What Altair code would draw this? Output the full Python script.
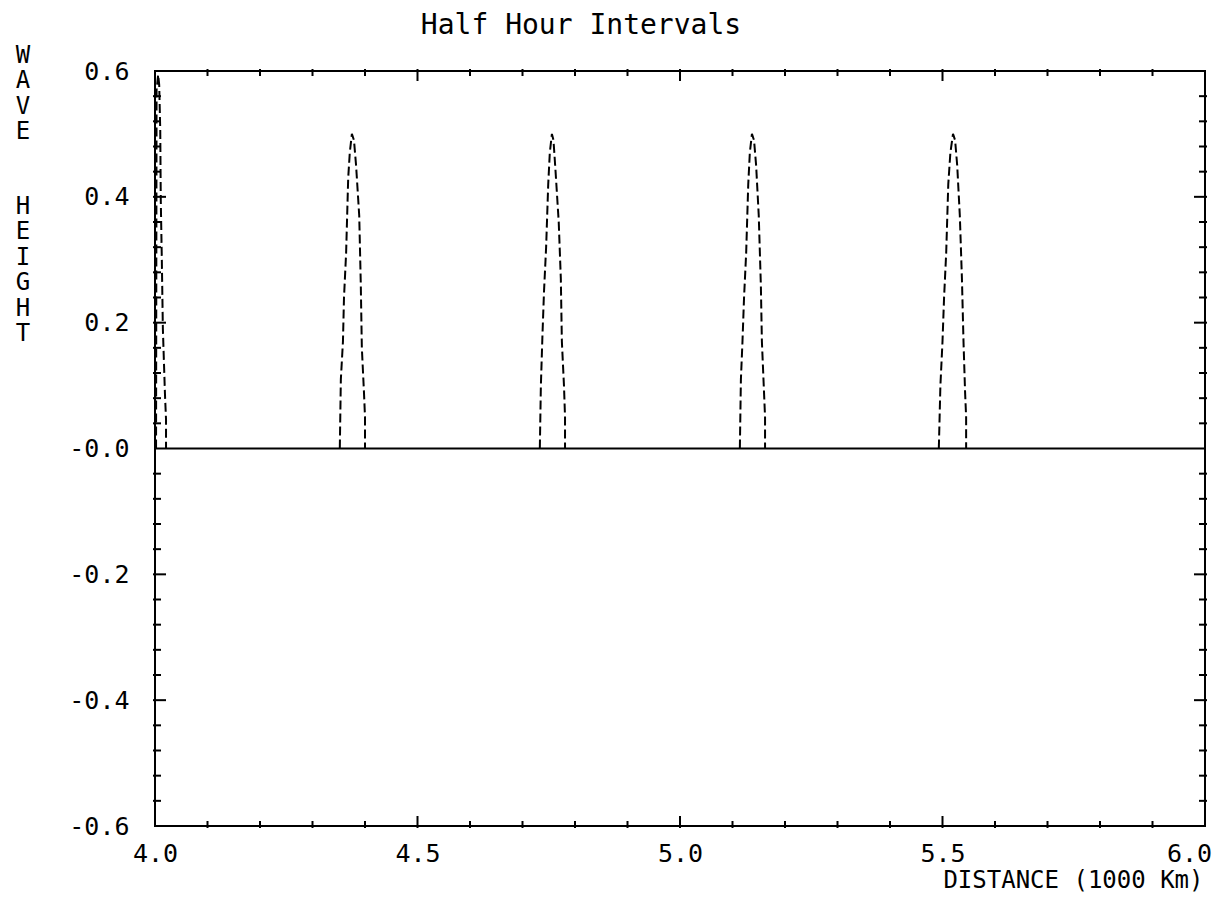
import altair as alt
import pandas as pd

# ---- data ----
TITLE = "Half Hour Intervals"
Y_TITLE_1 = ["W", "A", "V", "E"]
Y_TITLE_2 = ["H", "E", "I", "G", "H", "T"]
X_TITLE = "DISTANCE (1000 Km)"

X_DOMAIN = [4.0, 6.0]
Y_DOMAIN = [-0.6, 0.6]
X_LABELS = [4.0, 4.5, 5.0, 5.5, 6.0]
Y_LABELS = [-0.6, -0.4, -0.2, 0.0, 0.2, 0.4, 0.6]
X_MINOR = [4.1, 4.2, 4.3, 4.4, 4.6, 4.7, 4.8, 4.9, 5.1, 5.2, 5.3, 5.4, 5.6, 5.7, 5.8, 5.9]
X_MAJOR = [4.5, 5.0, 5.5]
Y_MINOR = [-0.56, -0.52, -0.48, -0.44, -0.36, -0.32, -0.28, -0.24, -0.16, -0.12, -0.08, -0.04,
           0.04, 0.08, 0.12, 0.16, 0.24, 0.28, 0.32, 0.36, 0.44, 0.48, 0.52, 0.56]
Y_MAJOR = [-0.4, -0.2, 0.2, 0.4]

p1_x = [4.002, 4.003, 4.006, 4.008, 4.010, 4.011, 4.013, 4.015, 4.019, 4.021, 4.021]
p1_y = [0.0, 0.57, 0.594, 0.578, 0.506, 0.395, 0.30, 0.19, 0.086, 0.046, 0.0]

p2_x = [4.352, 4.354, 4.358, 4.360, 4.364, 4.368, 4.371, 4.375, 4.379, 4.383, 4.389, 4.392, 4.394, 4.398, 4.400, 4.400]
p2_y = [0.0, 0.11, 0.17, 0.24, 0.31, 0.43, 0.47, 0.50, 0.49, 0.45, 0.37, 0.26, 0.16, 0.09, 0.05, 0.0]

p3_x = [4.733, 4.735, 4.738, 4.741, 4.745, 4.749, 4.752, 4.756, 4.759, 4.763, 4.769, 4.773, 4.775, 4.779, 4.781, 4.781]
p3_y = [0.0, 0.10, 0.18, 0.25, 0.32, 0.42, 0.47, 0.50, 0.49, 0.44, 0.36, 0.27, 0.17, 0.10, 0.05, 0.0]

p4_x = [5.114, 5.116, 5.119, 5.122, 5.126, 5.130, 5.133, 5.137, 5.141, 5.145, 5.150, 5.154, 5.156, 5.160, 5.162, 5.162]
p4_y = [0.0, 0.11, 0.17, 0.24, 0.31, 0.42, 0.47, 0.50, 0.49, 0.45, 0.37, 0.26, 0.17, 0.09, 0.05, 0.0]

p5_x = [5.493, 5.496, 5.500, 5.503, 5.507, 5.511, 5.515, 5.520, 5.524, 5.528, 5.533, 5.537, 5.540, 5.543, 5.545, 5.545]
p5_y = [0.0, 0.10, 0.17, 0.24, 0.31, 0.42, 0.47, 0.50, 0.49, 0.45, 0.37, 0.27, 0.17, 0.09, 0.05, 0.0]

rows = []
for name, xs_, ys_ in [("p1", p1_x, p1_y), ("p2", p2_x, p2_y), ("p3", p3_x, p3_y),
                       ("p4", p4_x, p4_y), ("p5", p5_x, p5_y)]:
    for i, (a, b) in enumerate(zip(xs_, ys_)):
        rows.append({"peak": name, "i": i, "x": a, "y": b})
waves = pd.DataFrame(rows)

W, H = 1050, 755
FONT = "DejaVu Sans Mono"

xs = alt.Scale(domain=X_DOMAIN, nice=False, zero=False)
ys = alt.Scale(domain=Y_DOMAIN, nice=False, zero=False)

x_axis = alt.Axis(
    values=X_LABELS, format=".1f", ticks=False, tickSize=0, domain=False, grid=False,
    labelFont=FONT, labelFontSize=25, labelColor="black", labelPadding=27,
    labelBaseline="middle", labelFlush=False,
    labelOffset={"condition": {"test": "datum.value >= 6", "value": -16}, "value": 0},
    title=X_TITLE, titleFont=FONT, titleFontSize=24, titleFontWeight="normal",
    titleColor="black", titleX=1048, titleY=54, titleAlign="right", titleBaseline="middle",
    titleAnchor="start",
)
y_axis = alt.Axis(
    values=Y_LABELS, ticks=False, tickSize=0, domain=False, grid=False,
    labelExpr="datum.value == 0 ? '-0.0' : (datum.value < 0 ? '-' + format(-datum.value, '.1f') : format(datum.value, '.1f'))",
    labelFont=FONT, labelFontSize=25, labelColor="black", labelPadding=26, labelFlush=False,
    title=None,
)

def X(field):
    return alt.X(field, scale=xs, axis=x_axis)

def Y(field):
    return alt.Y(field, scale=ys, axis=y_axis)

line = alt.Chart(waves).mark_line(
    color="black", strokeWidth=2, strokeDash=[9, 4], clip=True
).encode(
    x=X("x:Q"),
    y=Y("y:Q"),
    detail="peak:N",
    order="i:Q",
)

zero = alt.Chart(pd.DataFrame({"y": [0.0]})).mark_rule(color="black", strokeWidth=2).encode(
    y=Y("y:Q")
)

xmin = pd.DataFrame({"v": X_MINOR})
xmaj = pd.DataFrame({"v": X_MAJOR})
ymin = pd.DataFrame({"v": Y_MINOR})
ymaj = pd.DataFrame({"v": Y_MAJOR})

def xticks(df, length):
    bottom = alt.Chart(df).mark_rule(color="black", strokeWidth=2).encode(
        x=X("v:Q"), y=alt.value(H + 2), y2=alt.value(H - length))
    top = alt.Chart(df).mark_rule(color="black", strokeWidth=2).encode(
        x=X("v:Q"), y=alt.value(-2), y2=alt.value(length))
    return [bottom, top]

def yticks(df, length):
    left = alt.Chart(df).mark_rule(color="black", strokeWidth=2).encode(
        y=Y("v:Q"), x=alt.value(-2), x2=alt.value(length))
    right = alt.Chart(df).mark_rule(color="black", strokeWidth=2).encode(
        y=Y("v:Q"), x=alt.value(W + 2), x2=alt.value(W - length))
    return [left, right]

one = pd.DataFrame({"k": [0]})
title_txt = alt.Chart(one).mark_text(
    font=FONT, fontSize=28, color="black", align="center", baseline="middle"
).encode(x=alt.value(426), y=alt.value(-45), text=alt.value(TITLE))

ytitle1 = alt.Chart(one).mark_text(
    font=FONT, fontSize=24, color="black", align="center", baseline="middle", lineHeight=25.4
).encode(x=alt.value(-132), y=alt.value(-15), text=alt.value(Y_TITLE_1))
ytitle2 = alt.Chart(one).mark_text(
    font=FONT, fontSize=24, color="black", align="center", baseline="middle", lineHeight=25.4
).encode(x=alt.value(-132), y=alt.value(136), text=alt.value(Y_TITLE_2))

layers = ([line, zero] + xticks(xmin, 5) + xticks(xmaj, 10) + yticks(ymin, 6) + yticks(ymaj, 11)
          + [title_txt, ytitle1, ytitle2])

chart = alt.layer(*layers).properties(
    width=W,
    height=H,
    padding={"left": 155, "top": 71, "right": 13, "bottom": 73},
    autosize=alt.AutoSizeParams(type="none"),
    background="white",
).configure_view(
    stroke="black", strokeWidth=2
)

chart.save("out.html", embed_options={"renderer": "svg", "actions": False})
